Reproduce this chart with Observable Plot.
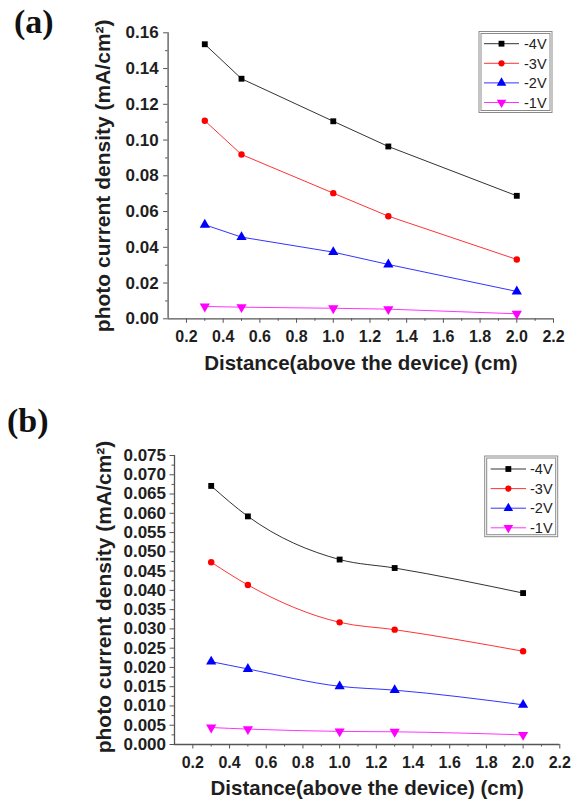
<!DOCTYPE html>
<html><head><meta charset="utf-8">
<script src="https://cdn.jsdelivr.net/npm/d3@7"></script>
<script src="https://cdn.jsdelivr.net/npm/@observablehq/plot@0.6"></script>
<style>
body{margin:0;background:#fff;width:583px;height:805px;position:relative;overflow:hidden}
.panel{position:absolute;left:0}
</style></head><body>
<div id="a" class="panel" style="top:0"></div>
<div id="b" class="panel" style="top:390px"></div>
<script>
// ---- data ----
const distances = [0.3, 0.5, 1.0, 1.3, 2.0];
const seriesNames = ["-4V", "-3V", "-2V", "-1V"];
const seriesColors = ["#000000", "#ff0000", "#0000ff", "#ff00ff"];
const seriesSymbols = ["square", "circle", "triangle", "triangle"];
const seriesRotate = [0, 0, 0, 180];

const a4V = [0.1536, 0.1343, 0.1105, 0.0964, 0.0688];
const a3V = [0.1108, 0.0919, 0.0703, 0.0574, 0.0332];
const a2V = [0.0526, 0.0457, 0.0373, 0.0304, 0.0153];
const a1V = [0.0069, 0.0065, 0.0059, 0.0054, 0.0028];

const b4V = [0.0671, 0.0592, 0.0480, 0.0458, 0.0393];
const b3V = [0.0473, 0.0414, 0.0317, 0.0298, 0.0242];
const b2V = [0.0215, 0.0196, 0.0151, 0.0141, 0.0103];
const b1V = [0.0044, 0.0040, 0.0034, 0.0033, 0.0025];

const xTicks = [0.2, 0.4, 0.6, 0.8, 1.0, 1.2, 1.4, 1.6, 1.8, 2.0, 2.2];
const xMinor = [0.3, 0.5, 0.7, 0.9, 1.1, 1.3, 1.5, 1.7, 1.9, 2.1];
const yTicksA = [0, 0.02, 0.04, 0.06, 0.08, 0.10, 0.12, 0.14, 0.16];
const yMinorA = [0.01, 0.03, 0.05, 0.07, 0.09, 0.11, 0.13, 0.15];
const yTicksB = [0, 0.005, 0.010, 0.015, 0.020, 0.025, 0.030, 0.035, 0.040, 0.045, 0.050, 0.055, 0.060, 0.065, 0.070, 0.075];
const yMinorB = [0.0025, 0.0075, 0.0125, 0.0175, 0.0225, 0.0275, 0.0325, 0.0375, 0.0425, 0.0475, 0.0525, 0.0575, 0.0625, 0.0675, 0.0725];

const xTitle = "Distance(above the device) (cm)";
const yTitle = "photo current density (mA/cm²)";
const panelLabels = ["(a)", "(b)"];

// ---- drawing ----
const SANS = "'Liberation Sans', Arial, Helvetica, sans-serif";
const SERIF = "'Liberation Serif', 'Times New Roman', serif";

function panel(cfg) {
  const marks = [];
  const axisCol = "#555";
  marks.push(Plot.axisY(cfg.yMinor, {anchor: "left", tickSize: 2.5, tickFormat: () => "", stroke: axisCol, label: null}));
  marks.push(Plot.axisY(cfg.yTicks, {anchor: "left", tickSize: 4.5, tickPadding: cfg.yPad, tickFormat: d => d.toFixed(cfg.yDigits),
    fontSize: 17, fontWeight: "bold", fill: "#1e1e1e", stroke: axisCol, label: null}));
  marks.push(Plot.axisX(xMinor, {anchor: "bottom", tickSize: 2.5, tickFormat: () => "", stroke: axisCol, label: null}));
  marks.push(Plot.axisX(xTicks, {anchor: "bottom", tickSize: 4.5, tickPadding: 7.5, tickFormat: d => d.toFixed(1),
    fontSize: 16, fontWeight: "bold", fill: "#1e1e1e", stroke: axisCol, label: null}));
  marks.push(Plot.ruleY([cfg.yDomain[0]], {stroke: axisCol, strokeWidth: 1.3}));
  marks.push(Plot.ruleX([0.1], {stroke: axisCol, strokeWidth: 1.3}));
  cfg.values.forEach((vals, s) => {
    const rows = vals.map((v, i) => ({x: distances[i], y: v}));
    marks.push(Plot.line(rows, {x: "x", y: "y", stroke: seriesColors[s], strokeWidth: 1, strokeOpacity: 0.8, curve: cfg.curve}));
    marks.push(Plot.dot(rows, {x: "x", y: "y", symbol: seriesSymbols[s], fill: seriesColors[s], stroke: "none",
      r: seriesSymbols[s] === "square" ? 3.3 : seriesSymbols[s] === "circle" ? 3.2 : 3.8, rotate: seriesRotate[s]}));
  });
  marks.push(Plot.text([xTitle], {frameAnchor: "bottom", dy: cfg.xTitleDy, text: d => d, fontSize: 20.5, fontWeight: "bold",
    fill: "#1e1e1e", lineAnchor: "middle", textAnchor: "middle"}));
  marks.push(Plot.text([yTitle], {frameAnchor: "left", dx: cfg.yTitleDx, dy: cfg.yTitleDy, text: d => d, rotate: -90, fontSize: 21,
    fontWeight: "bold", fill: "#1e1e1e", lineAnchor: "middle", textAnchor: "middle"}));

  const svg = Plot.plot({
    width: 583, height: cfg.height,
    marginLeft: cfg.ml, marginRight: cfg.mr, marginTop: cfg.mt, marginBottom: cfg.mb,
    x: {domain: [0.1, 2.2], label: null},
    y: {domain: cfg.yDomain, label: null},
    style: {fontFamily: SANS, fontWeight: "bold", background: "white", color: "#1e1e1e", overflow: "visible"},
    marks
  });

  const g = d3.select(svg).append("g").attr("text-anchor", "start");
  // panel label
  g.append("text").attr("x", cfg.labelX).attr("y", cfg.labelY).attr("font-family", SERIF).attr("text-anchor", "start")
    .attr("font-weight", "bold").attr("font-size", 34).attr("fill", "#111").text(cfg.label);
  // legend
  const L = cfg.legend;
  g.append("rect").attr("x", L.x).attr("y", L.y).attr("width", L.w).attr("height", L.h)
    .attr("fill", "white").attr("stroke", "#8a8a8a").attr("stroke-width", 1);
  g.append("rect").attr("x", L.x + 2).attr("y", L.y + 2).attr("width", L.w - 4).attr("height", L.h - 4)
    .attr("fill", "none").attr("stroke", "#8a8a8a").attr("stroke-width", 1);
  seriesNames.forEach((name, s) => {
    const yy = L.row0 + s * L.step;
    g.append("line").attr("x1", L.lx1).attr("x2", L.lx2).attr("y1", yy).attr("y2", yy)
      .attr("stroke", seriesColors[s]).attr("stroke-opacity", 0.8).attr("stroke-width", 1);
    const sym = seriesSymbols[s] === "square" ? d3.symbolSquare : seriesSymbols[s] === "circle" ? d3.symbolCircle : d3.symbolTriangle;
    const sz = seriesSymbols[s] === "square" ? 34 : seriesSymbols[s] === "circle" ? 30 : 40;
    g.append("path").attr("d", d3.symbol(sym, sz)()).attr("fill", seriesColors[s])
      .attr("transform", `translate(${(L.lx1 + L.lx2) / 2},${yy}) rotate(${seriesRotate[s]})`);
    g.append("text").attr("x", L.tx).attr("y", yy).attr("dy", "0.36em").attr("font-family", SANS).attr("text-anchor", "start")
      .attr("font-weight", "normal").attr("font-size", 14.5).attr("fill", "#222").text(name);
  });
  document.getElementById(cfg.id).appendChild(svg);
}

panel({
  id: "a", height: 390, ml: 167.6, mr: 30, mt: 32.3, mb: 390 - 318.3, curve: "linear",
  yDomain: [0, 0.16], yTicks: yTicksA, yMinor: yMinorA, yDigits: 2, yPad: 5,
  values: [a4V, a3V, a2V, a1V],
  xTitleDy: 45, yTitleDx: -65, yTitleDy: 0,
  label: panelLabels[0], labelX: 14, labelY: 33,
  legend: {x: 479, y: 31.5, w: 73, h: 81, row0: 43.7, step: 19.6, lx1: 484, lx2: 519, tx: 524}
});
panel({
  id: "b", height: 415, ml: 174, mr: 23.7, mt: 65, mb: 415 - 354, curve: "monotone-x",
  yDomain: [0, 0.075], yTicks: yTicksB, yMinor: yMinorB, yDigits: 3, yPad: 4,
  values: [b4V, b3V, b2V, b1V],
  xTitleDy: 44, yTitleDx: -70, yTitleDy: -3,
  label: panelLabels[1], labelX: 7, labelY: 432 - 390,
  legend: {x: 484.7, y: 456 - 390, w: 73, h: 80.7, row0: 469 - 390, step: 19.6, lx1: 490.7, lx2: 526, tx: 530}
});
</script>
</body></html>
